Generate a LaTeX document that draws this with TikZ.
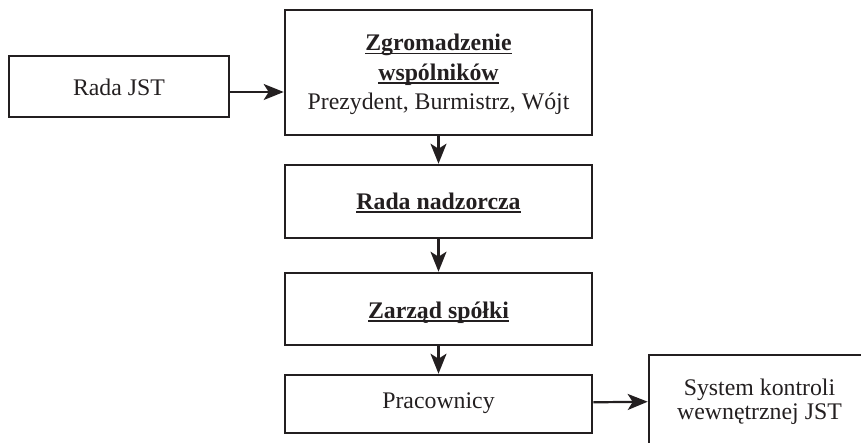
\documentclass[tikz,border=0pt]{standalone}
\usepackage{fontspec}
\setmainfont{Liberation Serif}
\usetikzlibrary{arrows.meta}
\definecolor{ink}{HTML}{231F20}
\newsavebox\ulbox
\newcommand\ulx[1]{\sbox\ulbox{#1}\rlap{\rule[-3.4pt]{\wd\ulbox}{1.7pt}}\usebox\ulbox}
\begin{document}
\begin{tikzpicture}[x=1pt,y=-1pt,
  box/.style={draw=ink,line width=2.6pt,rectangle,inner sep=0pt},
  txt/.style={anchor=base,inner sep=0pt,text=ink,font=\fontsize{23.8}{27}\selectfont},
  btxt/.style={txt,font=\fontsize{23.8}{27}\selectfont\bfseries},
  arr/.style={draw=ink,line width=2.2pt,-{Stealth[length=20pt,width=16pt,inset=5pt]}}]
\useasboundingbox (0,0) rectangle (861,443);
\clip (0,0) rectangle (861,443);
\node[box,minimum width=220pt,minimum height=61pt] (rada) at (119,86.5) {};
\node[txt] (radat) at (119,96) {Rada JST};
\node[box,minimum width=307pt,minimum height=125pt] (zg) at (438.5,72.5) {};
\node[btxt] (zg1) at (438.5,51) {\ulx{Zgromadzenie}};
\node[btxt] (zg2) at (438.5,80.5) {\ulx{wspólników}};
\node[txt] (zg3) at (438.5,109.5) {Prezydent, Burmistrz, Wójt};
\node[box,minimum width=307pt,minimum height=73pt] (rn) at (438.5,201.5) {};
\node[btxt] (rnt) at (438.5,209.5) {\ulx{Rada nadzorcza}};
\node[box,minimum width=307pt,minimum height=72pt] (zs) at (438.5,309) {};
\node[btxt] (zst) at (438.5,318.3) {\ulx{Zarząd spółki}};
\node[box,minimum width=307pt,minimum height=58pt] (pr) at (438.5,404) {};
\node[txt] (prt) at (438.5,408.5) {Pracownicy};
\node[box,minimum width=221pt,minimum height=91pt] (sk) at (759.5,400.5) {};
\node[txt] (sk1) at (759.5,395) {System kontroli};
\node[txt] (sk2) at (759.5,419) {wewnętrznej JST};
\coordinate (a) at (0,92);
\draw[arr] (rada.east |- a) -- (zg.west |- a);
\draw[arr] (zg) -- (rn);
\draw[arr] (rn) -- (zs);
\draw[arr] (zs) -- (pr);
\draw[arr] (pr) -- (sk);
\end{tikzpicture}
\end{document}
